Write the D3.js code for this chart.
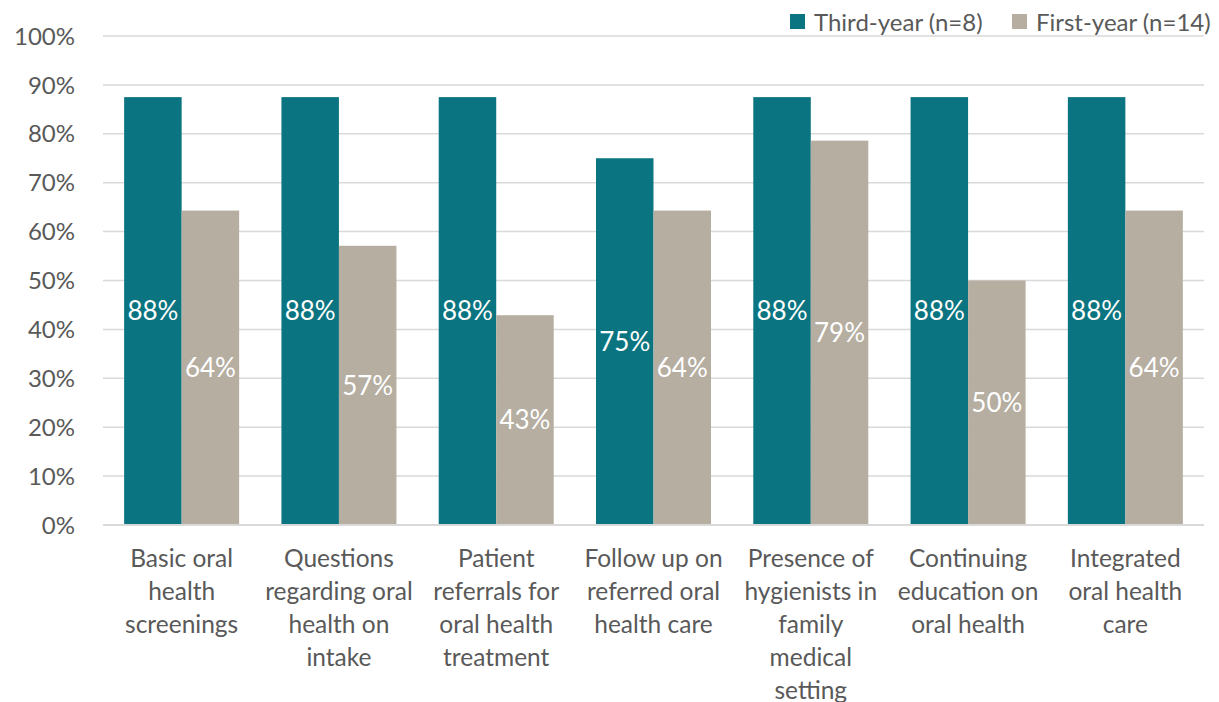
<!DOCTYPE html>
<html><head><meta charset="utf-8">
<script src="https://cdn.jsdelivr.net/npm/d3@7"></script>
<style>body{margin:0;background:#fff}svg{display:block}</style>
</head><body>
<script>
const categories = [
  ["Basic oral","health","screenings"],
  ["Questions","regarding oral","health on","intake"],
  ["Patient","referrals for","oral health","treatment"],
  ["Follow up on","referred oral","health care"],
  ["Presence of","hygienists in","family","medical","setting"],
  ["Continuing","education on","oral health"],
  ["Integrated","oral health","care"]
];
const thirdYear = [87.5, 87.5, 87.5, 75, 87.5, 87.5, 87.5];
const firstYear = [64.3, 57.1, 42.9, 64.3, 78.6, 50, 64.3];
const seriesNames = ["Third-year (n=8)", "First-year (n=14)"];
const yTicks = [0,10,20,30,40,50,60,70,80,90,100];

(function(){
const W = 1219, H = 702;
const colors = ["#0a7480", "#b5aea1"];
const font = "Lato, 'Open Sans', sans-serif";
const svg = d3.select("body").append("svg").attr("width", W).attr("height", H);

const pLeft = 103, pRight = 1204, pTop = 36, pBottom = 525;
const x = d3.scaleBand().domain(d3.range(categories.length)).range([pLeft, pRight]).padding(0);
const y = d3.scaleLinear().domain([0, 100]).range([pBottom, pTop]);
const barW = 57.5;

svg.append("g").selectAll("line").data(yTicks).join("line")
  .attr("x1", pLeft).attr("x2", pRight)
  .attr("y1", d => y(d)).attr("y2", d => y(d))
  .attr("stroke", "#d9d9d9").attr("stroke-width", 1.5);

svg.append("g").selectAll("text").data(yTicks).join("text")
  .attr("x", 75).attr("y", d => y(d)).attr("dy", "0.36em")
  .attr("text-anchor", "end").attr("font-family", font).attr("font-size", 24)
  .attr("fill", "#595959").text(d => d + "%");

const series = [thirdYear, firstYear];
series.forEach((vals, si) => {
  const g = svg.append("g");
  const bx = i => x(i) + x.bandwidth() / 2 - barW + si * barW;
  g.selectAll("rect").data(vals).join("rect")
    .attr("x", (d, i) => bx(i)).attr("width", barW)
    .attr("y", d => y(d)).attr("height", d => y(0) - y(d))
    .attr("fill", colors[si]);
  g.selectAll("text").data(vals).join("text")
    .attr("x", (d, i) => bx(i) + barW / 2)
    .attr("y", d => (y(d) + y(0)) / 2).attr("dy", "0.36em")
    .attr("text-anchor", "middle").attr("font-family", font).attr("font-size", 26)
    .attr("fill", "#fff").text(d => Math.round(d) + "%");
});

svg.append("line").attr("x1", pLeft).attr("x2", pRight).attr("y1", pBottom).attr("y2", pBottom)
  .attr("stroke", "#d9d9d9").attr("stroke-width", 2);

categories.forEach((lines, i) => {
  const t = svg.append("text").attr("text-anchor", "middle")
    .attr("font-family", font).attr("font-size", 24.5).attr("fill", "#595959");
  lines.forEach((l, j) => {
    t.append("tspan").attr("x", x(i) + x.bandwidth() / 2).attr("y", 567 + j * 33).text(l);
  });
});

const legendX = [790, 1012];
seriesNames.forEach((n, i) => {
  svg.append("rect").attr("x", legendX[i]).attr("y", 14).attr("width", 15).attr("height", 15).attr("fill", colors[i]);
  svg.append("text").attr("x", legendX[i] + 24).attr("y", 22).attr("dy", "0.36em")
    .attr("font-family", font).attr("font-size", 24).attr("fill", "#595959").text(n);
});
})();
</script>
</body></html>
